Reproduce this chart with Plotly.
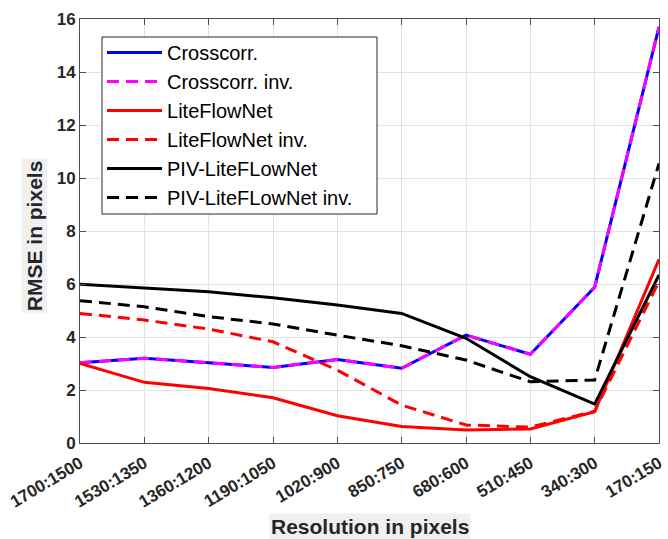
import plotly.graph_objects as go

resolutions = ["1700:1500", "1530:1350", "1360:1200", "1190:1050", "1020:900",
               "850:750", "680:600", "510:450", "340:300", "170:150"]
crosscorr = [3.03, 3.2, 3.03, 2.85, 3.15, 2.82, 4.07, 3.35, 5.88, 15.7]
crosscorr_inv = [3.03, 3.2, 3.03, 2.85, 3.15, 2.82, 4.07, 3.35, 5.88, 15.7]
liteflownet = [3.0, 2.29, 2.06, 1.71, 1.03, 0.62, 0.49, 0.53, 1.18, 6.93]
liteflownet_inv = [4.89, 4.64, 4.3, 3.82, 2.75, 1.43, 0.68, 0.6, 1.2, 6.1]
piv_lfn = [5.99, 5.86, 5.71, 5.48, 5.21, 4.89, 3.95, 2.5, 1.47, 6.34]
piv_lfn_inv = [5.37, 5.14, 4.77, 4.49, 4.07, 3.67, 3.13, 2.31, 2.38, 10.55]

series = [
    ("Crosscorr.", crosscorr, "#0000ff", "solid"),
    ("Crosscorr. inv.", crosscorr_inv, "#ff00ff", "12px,7px"),
    ("LiteFlowNet", liteflownet, "#ff0000", "solid"),
    ("LiteFlowNet inv.", liteflownet_inv, "#ff0000", "12px,7px"),
    ("PIV-LiteFLowNet", piv_lfn, "#000000", "solid"),
    ("PIV-LiteFLowNet inv.", piv_lfn_inv, "#000000", "12px,7px"),
]

fig = go.Figure()
for i, (name, vals, color, dash) in enumerate(series):
    fig.add_trace(go.Scatter(
        x=list(range(len(resolutions))), y=vals, mode="lines", name=name,
        legendgroup=f"g{i}",
        line=dict(color=color, width=3, dash=dash),
    ))

axis_common = dict(
    showline=True, linecolor="#4d4d4d", linewidth=1, mirror="ticks",
    ticks="inside", ticklen=6, tickcolor="#4d4d4d", automargin=False,
    showgrid=True, gridcolor="#e3e3e3", gridwidth=1, zeroline=False,
    tickfont=dict(family="Liberation Sans, Arial", size=17, color="#262626", weight="bold"),
)

fig.update_layout(
    width=668, height=539,
    margin=dict(l=80, r=9, t=19, b=96),
    plot_bgcolor="white", paper_bgcolor="white",
    showlegend=True,
    legend=dict(
        x=0.038, y=0.967, xanchor="left", yanchor="top",
        bgcolor="rgba(0,0,0,0)", borderwidth=0,
        font=dict(family="Liberation Sans, Arial", size=20, color="#000000"),
        tracegroupgap=0, itemwidth=55,
    ),
    shapes=[dict(type="rect", xref="paper", yref="paper",
                 x0=0.038, x1=0.513, y0=0.540, y1=0.9575, layer="above",
                 fillcolor="white", line=dict(color="#262626", width=1))],
    xaxis=dict(axis_common, range=[0, 9], tickmode="array",
               tickvals=list(range(len(resolutions))), ticktext=resolutions,
               tickangle=-31, ticklabelstandoff=3),
    yaxis=dict(axis_common, range=[0, 16], dtick=2),
    annotations=[
        dict(text="<b>Resolution in pixels</b>", xref="paper", yref="paper",
             x=0.5, y=-0.198, xanchor="center", yanchor="middle", showarrow=False,
             bgcolor="#f0f0f0",
             font=dict(family="Liberation Sans, Arial", size=21, color="#262626")),
        dict(text="<b>RMSE in pixels</b>", xref="paper", yref="paper",
             x=-0.0795, y=0.49, xanchor="center", yanchor="middle", showarrow=False,
             textangle=-90, bgcolor="#f0f0f0",
             font=dict(family="Liberation Sans, Arial", size=21, color="#262626")),
    ],
)

fig.write_html("out.html")
